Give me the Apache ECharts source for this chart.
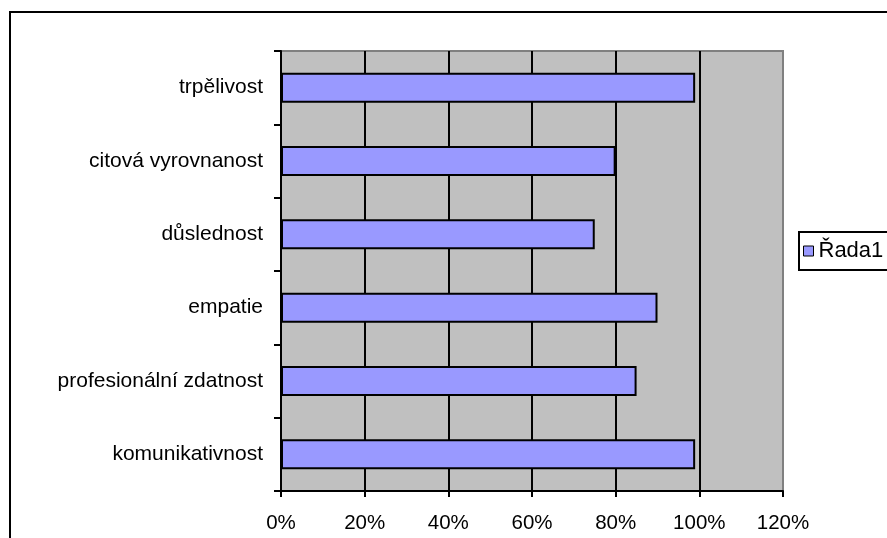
<!DOCTYPE html>
<html>
<head>
<meta charset="utf-8">
<script src="https://cdn.jsdelivr.net/npm/echarts@6/dist/echarts.min.js"></script>
<style>
  html, body { margin: 0; padding: 0; background: #fff; }
  #chart { width: 887px; height: 538px; }
</style>
</head>
<body>
<div id="chart"></div>
<script>
// Categories listed bottom-to-top (category axis runs upward)
const categories = [
  'komunikativnost',
  'profesionální zdatnost',
  'empatie',
  'důslednost',
  'citová vyrovnanost',
  'trpělivost'
];
const seriesName = 'Řada1';
const values = [99, 85, 90, 75, 80, 99];
const xTicks = { min: 0, max: 120, step: 20 };

const chart = echarts.init(document.getElementById('chart'), null, { renderer: 'canvas' });
const font = '"Liberation Sans", Arial, sans-serif';

chart.setOption({
  animation: false,
  backgroundColor: '#ffffff',
  graphic: [{
    // chart frame, open past the right and bottom edges
    type: 'rect',
    shape: { x: 10, y: 12, width: 1000, height: 1000 },
    style: { fill: 'none', stroke: '#000', lineWidth: 2 },
    silent: true,
    z: 100
  }],
  grid: {
    left: 281, top: 51, right: 104, bottom: 47,
    show: true,
    backgroundColor: '#c0c0c0',
    borderColor: '#808080',
    borderWidth: 2,
    containLabel: false
  },
  legend: {
    left: 799, top: 232,
    orient: 'vertical',
    padding: [8, 40, 8, 4],
    borderColor: '#000',
    borderWidth: 2,
    icon: 'rect',
    itemWidth: 10, itemHeight: 10,
    itemStyle: { borderColor: '#000', borderWidth: 1 },
    textStyle: { fontFamily: font, fontSize: 22, color: '#000' },
    data: [seriesName]
  },
  xAxis: {
    type: 'value',
    min: xTicks.min, max: xTicks.max, interval: xTicks.step,
    axisLine: { show: true, lineStyle: { color: '#000', width: 2 } },
    axisTick: { show: true, length: 6, lineStyle: { color: '#000', width: 2 } },
    axisLabel: {
      formatter: '{value}%',
      margin: 22,
      fontFamily: font, fontSize: 20.5, color: '#000'
    },
    splitLine: {
      show: true, showMinLine: false, showMaxLine: false,
      lineStyle: { color: '#000', width: 2 }
    }
  },
  yAxis: {
    type: 'category',
    data: categories,
    axisLine: { show: true, lineStyle: { color: '#000', width: 2 } },
    axisTick: { show: true, length: 7, lineStyle: { color: '#000', width: 2 } },
    axisLabel: { margin: 18, fontFamily: font, fontSize: 21, color: '#000' },
    splitLine: { show: false }
  },
  series: [{
    name: seriesName,
    type: 'bar',
    data: values,
    barWidth: '41%',
    itemStyle: { color: '#9999ff', borderColor: '#000', borderWidth: 2 }
  }]
});
</script>
</body>
</html>
